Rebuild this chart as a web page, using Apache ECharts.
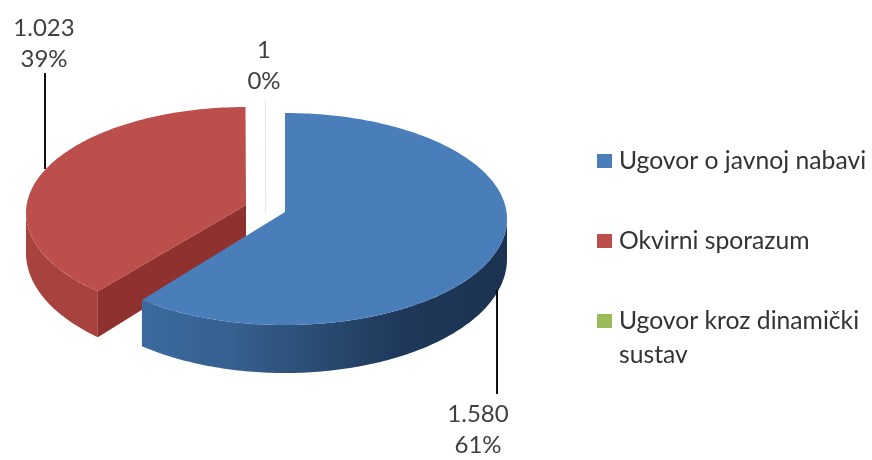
<!DOCTYPE html>
<html><head><meta charset="utf-8">
<style>html,body{margin:0;padding:0;background:#fff}#c{width:872px;height:460px}</style>
<script src="https://cdn.jsdelivr.net/npm/echarts@6/dist/echarts.min.js"></script>
</head><body><div id="c"></div>
<script>
const categories = ['Ugovor o javnoj nabavi', 'Okvirni sporazum', 'Ugovor kroz dinamički sustav'];
const values = [1580, 1023, 1];
const valueLabels = ['1.580', '1.023', '1'];
const legendText = ['\nUgovor o javnoj nabavi\n ', '\nOkvirni sporazum\n ', '\nUgovor kroz dinamički\nsustav'];
const colors = ['#4a7ebb', '#bc4e4b', '#9bbb59'];

// drawing layout of the tilted pie (not data); bias = perspective shift of the cut edge, in degrees
const layout = [
  {cx:285, apexY:212, rx:222, topCy:219, topRy:106, baseCy:259, baseRy:114, startBias:0, endBias:1.7, z:3,
   leader:[497,290,497,394], label:[478,430]},
  {cx:246, apexY:205, rx:220, topCy:213, topRy:106, baseCy:253, baseRy:114, startBias:3.9, endBias:0, z:2,
   leader:[45,169,45,73], label:[44,44]},
  {cx:265.7, apexY:213, rx:220, topCy:213, topRy:112, baseCy:253, baseRy:114, startBias:0, endBias:0, z:1,
   leader:null, label:[264,66]}
];
const total = values.reduce((a,b)=>a+b,0);
const sweeps = values.map(v=>v/total*360);
const starts = sweeps.map((s,i)=>sweeps.slice(0,i).reduce((a,b)=>a+b,0));

function rim(L,deg,base){
  const r=deg*Math.PI/180;
  return [L.cx+L.rx*Math.sin(r), (base?L.baseCy:L.topCy)-(base?L.baseRy:L.topRy)*Math.cos(r)];
}
function arc(L,a,b,base){
  const pts=[], n=Math.max(1,Math.ceil(Math.abs(b-a)));
  for(let i=0;i<=n;i++) pts.push(rim(L,a+(b-a)*i/n,base));
  return pts;
}
const grad=(stops)=>new echarts.graphic.LinearGradient(0,0,1,0,stops.map((c)=>({offset:c[0],color:c[1]})));
const wallFill=[
  grad([[0,'#3c6a9e'],[0.25,'#35608f'],[0.5,'#294a70'],[0.72,'#1f3859'],[1,'#1c3350']]),
  '#a8423f'
];
const faceFill=[null,'#8f322f'];
const labelColor='#404040', labelFont='24px Lato';

function renderSlice(i){
  return function(){
    const L=layout[i];
    const a=starts[i]+L.startBias, b=starts[i]+sweeps[i]+L.endBias;
    const children=[];
    const pct=Math.round(values[i]/total*100)+'%';
    if(i<2){
      const wa=Math.max(a,90), wb=Math.min(b,270);
      if(i===1){
        const p=rim(L,a,false), q=rim(L,a,true);
        children.push({type:'polygon',shape:{points:[[L.cx,L.apexY],p,q,[L.cx,L.apexY+40]]},style:{fill:faceFill[i]}});
      }
      children.push({type:'polygon',shape:{points:arc(L,wa,wb,false).concat(arc(L,wb,wa,true))},style:{fill:wallFill[i]}});
      children.push({type:'polygon',shape:{points:[[L.cx,L.apexY]].concat(arc(L,a,b,false))},style:{fill:colors[i]}});
      children.push({type:'line',shape:{x1:L.leader[0],y1:L.leader[1],x2:L.leader[2],y2:L.leader[3]},style:{stroke:'#111',lineWidth:2}});
    }else{
      const p=rim(L,a+sweeps[i]/2,false);
      children.push({type:'line',shape:{x1:L.cx,y1:L.apexY,x2:p[0],y2:p[1]},style:{stroke:'#e2e2e2',lineWidth:1}});
    }
    children.push({type:'text',style:{text:valueLabels[i]+'\n'+pct,x:L.label[0],y:L.label[1],align:'center',verticalAlign:'middle',
      fill:labelColor,font:labelFont,lineHeight:31}});
    return {type:'group',children};
  };
}
const chart=echarts.init(document.getElementById('c'),null,{renderer:'canvas'});
chart.setOption({
  animation:false,
  backgroundColor:'#fff',
  legend:{
    orient:'vertical',left:592,top:105,itemWidth:15,itemHeight:14,itemGap:-22,icon:'rect',selectedMode:false,
    data:categories.map((n,i)=>({name:n,itemStyle:{color:colors[i]}})),
    formatter:n=>legendText[categories.indexOf(n)],
    textStyle:{color:'#333',fontFamily:'Lato',fontSize:24.7,lineHeight:34,padding:[0,0,0,2]}
  },
  series:categories.map((n,i)=>({
    type:'custom',name:n,coordinateSystem:'none',z:layout[i].z,silent:true,
    itemStyle:{color:colors[i]},
    data:[values[i]],renderItem:renderSlice(i)
  }))
});
</script></body></html>
